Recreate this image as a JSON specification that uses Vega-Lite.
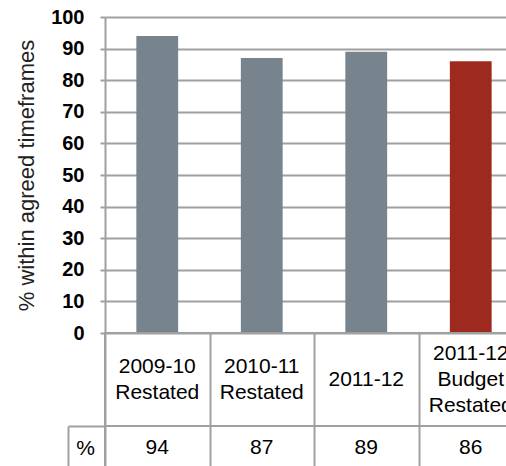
{
  "$schema": "https://vega.github.io/schema/vega-lite/v6.json",
  "padding": {"left": 15, "top": 7, "right": 0, "bottom": 0},
  "spacing": 0,
  "bounds": "flush",
  "config": {
    "font": "Liberation Sans",
    "view": {"stroke": "#a0a0a0", "strokeWidth": 2},
    "axis": {"labelFont": "Liberation Sans", "titleFont": "Liberation Sans"}
  },
  "datasets": {
    "d": [
      {"period": "2009-10 Restated", "value": 94, "type": "Actual"},
      {"period": "2010-11 Restated", "value": 87, "type": "Actual"},
      {"period": "2011-12", "value": 89, "type": "Actual"},
      {"period": "2011-12 Budget Restated", "value": 86, "type": "Budget"}
    ]
  },
  "vconcat": [
    {
      "width": 418,
      "height": 316,
      "data": {"name": "d"},
      "view": {"stroke": null},
      "mark": {"type": "bar", "width": {"band": 0.4}},
      "encoding": {
        "x": {"field": "period", "type": "nominal", "sort": "ascending",
              "scale": {"type": "band", "paddingInner": 0, "paddingOuter": 0}, "axis": null},
        "y": {"field": "value", "type": "quantitative",
              "scale": {"domain": [0, 100], "nice": false},
              "axis": {"values": [0, 10, 20, 30, 40, 50, 60, 70, 80, 90, 100],
                       "title": "% within agreed timeframes",
                       "grid": true, "gridColor": "#a0a0a0", "gridWidth": 2,
                       "domainColor": "#a0a0a0", "domainWidth": 2,
                       "tickColor": "#a0a0a0", "tickWidth": 2, "tickSize": 5,
                       "labelFontSize": 20, "labelFontWeight": "bold", "labelColor": "#000000",
                       "labelPadding": 16,
                       "titleFontSize": 22, "titleFontWeight": "normal", "titleColor": "#222222",
                       "titlePadding": 12}},
        "color": {"field": "type", "type": "nominal",
                  "scale": {"domain": ["Actual", "Budget"], "range": ["#77838d", "#9e2a1f"]},
                  "legend": null}
      }
    },
    {
      "width": 418,
      "height": 93,
      "data": {"name": "d"},
      "encoding": {
        "x": {"field": "period", "type": "nominal", "sort": "ascending",
              "scale": {"type": "band", "paddingInner": 0, "paddingOuter": 0},
              "axis": {"orient": "top", "labels": false, "ticks": false, "domain": false, "grid": true,
                       "tickBand": "extent", "gridColor": "#a0a0a0", "gridWidth": 2, "title": null}},
        "text": {"field": "period"}
      },
      "layer": [
        {
          "transform": [{"filter": "split(datum.period, ' ').length == 1"}],
          "mark": {"type": "text", "fontSize": 21, "lineBreak": " ", "lineHeight": 26, "color": "#000000", "dy": 0}
        },
        {
          "transform": [{"filter": "split(datum.period, ' ').length == 2"}],
          "mark": {"type": "text", "fontSize": 21, "lineBreak": " ", "lineHeight": 26, "color": "#000000", "dy": -13}
        },
        {
          "transform": [{"filter": "split(datum.period, ' ').length == 3"}],
          "mark": {"type": "text", "fontSize": 21, "lineBreak": " ", "lineHeight": 26, "color": "#000000", "dy": -26}
        }
      ]
    },
    {
      "width": 418,
      "height": 44,
      "data": {"name": "d"},
      "mark": {"type": "text", "fontSize": 21, "color": "#000000"},
      "encoding": {
        "x": {"field": "period", "type": "nominal", "sort": "ascending",
              "scale": {"type": "band", "paddingInner": 0, "paddingOuter": 0},
              "axis": {"orient": "top", "labels": false, "ticks": false, "domain": false, "grid": true,
                       "tickBand": "extent", "gridColor": "#a0a0a0", "gridWidth": 2, "title": null}},
        "y": {"datum": "%", "type": "nominal",
              "scale": {"type": "band", "paddingInner": 0, "paddingOuter": 0},
              "axis": {"offset": 37, "tickSize": -37, "tickBand": "extent", "ticks": true,
                       "tickColor": "#a0a0a0", "tickWidth": 2,
                       "domainColor": "#a0a0a0", "domainWidth": 2,
                       "labelFontSize": 21, "labelAlign": "center", "labelPadding": 20,
                       "labelColor": "#000000", "title": null, "grid": false}},
        "text": {"field": "value"}
      }
    }
  ],
  "resolve": {"scale": {"x": "independent", "y": "independent"}}
}
